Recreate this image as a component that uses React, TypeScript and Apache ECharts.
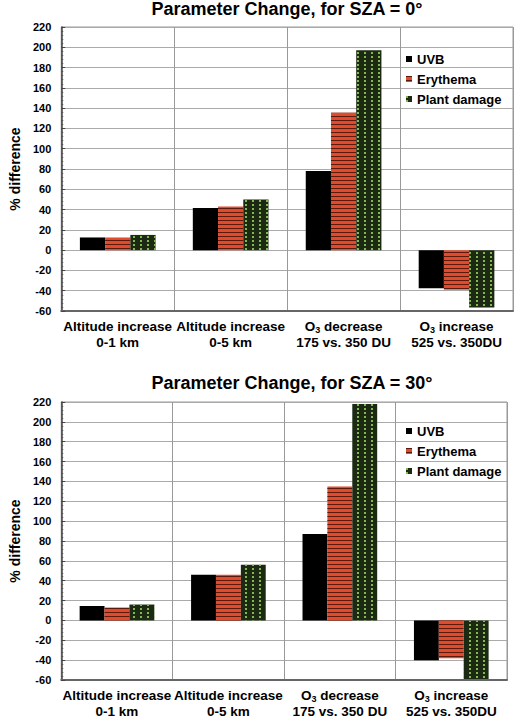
import React, { useEffect, useRef } from "react";
import * as echarts from "echarts";

const categories = [
  "Altitude increase\n0-1 km",
  "Altitude increase\n0-5 km",
  "O{sub|3} decrease\n175 vs. 350 DU",
  "O{sub|3} increase\n525 vs. 350DU",
];
const seriesNames = ["UVB", "Erythema", "Plant damage"];
const titles = ["Parameter Change, for SZA = 0°", "Parameter Change, for SZA = 30°"];
const yTicks = { min: -60, max: 220, interval: 20 };

// SZA = 0°
const uvb0 = [12.5, 41.5, 78, -37.5];
const ery0 = [12.5, 43, 135.5, -39];
const plant0 = [15, 50, 197, -56.5];
// SZA = 30°
const uvb30 = [14.5, 46, 87, -40];
const ery30 = [13, 46, 135, -38];
const plant30 = [16, 56, 218, -59];

const FONT = "'Liberation Sans', Arial, sans-serif";

const styles = [
  { color: "#000000" },
  {
    color: "#e24a2c",
    decal: {
      symbol: "rect",
      symbolSize: 1,
      color: "#5a1a0e",
      dashArrayX: [1, 0],
      dashArrayY: [1, 2.3],
      rotation: 0,
    },
  },
  {
    color: "#1c2a14",
    decal: {
      symbol: "rect",
      symbolSize: 1,
      color: "#86b852",
      dashArrayX: [1.2, 5],
      dashArrayY: [1.5, 1.5],
      rotation: 0,
    },
  },
];

export default function App() {
  const ref = useRef<HTMLDivElement>(null);
  useEffect(() => {
    if (!ref.current) return;
    const chart = echarts.init(ref.current, null, { renderer: "svg" });
    const grids = [
      { left: 52, right: 4, top: 27, height: 284 },
      { left: 50, right: 10, top: 402, height: 281 },
    ];
    const data = [
      [uvb0, ery0, plant0],
      [uvb30, ery30, plant30],
    ];
    const xAxes = grids.map((_, i) => ({
      type: "category",
      gridIndex: i,
      data: categories,
      axisLine: { onZero: false, lineStyle: { color: "#666", width: 2 } },
      axisTick: { show: false },
      splitLine: { show: true, interval: 0, lineStyle: { color: "#999", width: 1 } },
      axisLabel: {
        interval: 0,
        margin: 7,
        color: "#000",
        fontWeight: "bold",
        fontSize: 13.5,
        lineHeight: 16,
        fontFamily: FONT,
        rich: {
          sub: { fontSize: 9, fontWeight: "bold", fontFamily: FONT, verticalAlign: "bottom", padding: [7, 0, 0, 0] },
        },
      },
    }));
    const yAxes = grids.map((_, i) => ({
      type: "value",
      gridIndex: i,
      min: yTicks.min,
      max: yTicks.max,
      interval: yTicks.interval,
      name: "% difference",
      nameLocation: "middle",
      nameGap: 36,
      nameTextStyle: { fontWeight: "bold", fontSize: 14, fontFamily: FONT, color: "#000" },
      axisLine: { show: true, lineStyle: { color: "#444", width: 1.5 } },
      axisTick: { show: true, inside: true, length: 4, lineStyle: { color: "#444" } },
      minorTick: { show: true, splitNumber: 5, length: 2, lineStyle: { color: "#555" } },
      splitLine: { lineStyle: { color: "#aaa", width: 1 } },
      axisLabel: { fontWeight: "bold", fontSize: 11, color: "#000", margin: 10, fontFamily: FONT },
    }));
    const series: any[] = [];
    data.forEach((set, gi) => {
      set.forEach((vals, si) => {
        series.push({
          type: "bar",
          name: seriesNames[si],
          xAxisIndex: gi,
          yAxisIndex: gi,
          data: vals,
          barGap: "0%",
          barCategoryGap: "33%",
          itemStyle: styles[si],
        });
      });
    });
    const legends = [52, 424].map((top) => ({
      data: seriesNames,
      orient: "vertical",
      left: 406,
      top,
      padding: 0,
      itemWidth: 6,
      itemHeight: 6,
      itemGap: 6,
      icon: "rect",
      textStyle: { fontWeight: "bold", fontSize: 13, lineHeight: 14, color: "#000", fontFamily: FONT },
    }));
    chart.setOption({
      animation: false,
      backgroundColor: "#fff",
      grid: grids.map((g) => ({ ...g, show: true, borderColor: "#999", borderWidth: 1 })),
      xAxis: xAxes,
      yAxis: yAxes,
      legend: legends,
      series,
      graphic: [
        {
          type: "text",
          x: 287,
          y: 0,
          style: { text: titles[0], textAlign: "center", textVerticalAlign: "top", font: `bold 18px ${FONT}`, fill: "#000" },
        },
        {
          type: "text",
          x: 292,
          y: 374,
          style: { text: titles[1], textAlign: "center", textVerticalAlign: "top", font: `bold 18px ${FONT}`, fill: "#000" },
        },
      ],
    });
    return () => chart.dispose();
  }, []);
  return <div ref={ref} style={{ position: "absolute", left: 0, top: 0, width: 517, height: 719 }} />;
}
